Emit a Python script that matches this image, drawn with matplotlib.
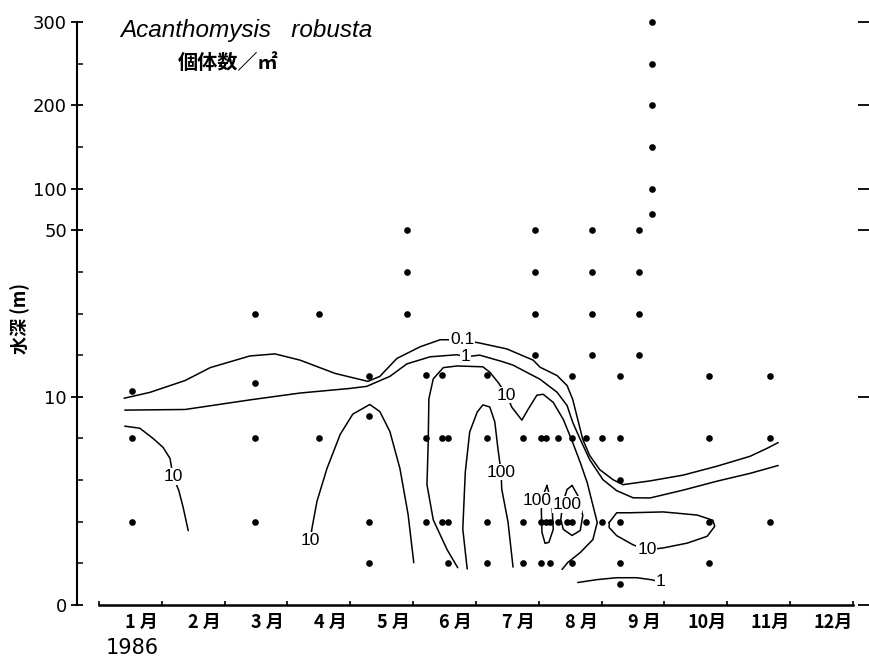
import numpy as np
import matplotlib
matplotlib.use("Agg")
import matplotlib.pyplot as plt
from matplotlib.ticker import NullFormatter

# ---------------- data ----------------
# depth axis: evenly spaced nodes (hand-drawn broken scale)
depth_nodes = [0, 2, 4, 6, 8, 10, 20, 30, 40, 50, 100, 150, 200, 250, 300]
major_depths = [0, 10, 50, 100, 200, 300]
minor_depths = [2, 4, 6, 8, 20, 30, 40, 150, 250]
month_labels = ["1 月", "2 月", "3 月", "4 月", "5 月", "6 月", "7 月", "8 月",
                "9 月", "10月", "11月", "12月"]

# sampling stations: time (months since 1 Jan 1986) and sampled depths (m)
station_month = [0.53, 2.48, 3.50, 4.30, 4.90, 5.20, 5.46, 5.55, 6.18, 6.75,
                 6.94, 7.04, 7.11, 7.18, 7.30, 7.45, 7.53, 7.75, 7.85, 8.01,
                 8.29, 8.59, 8.80, 9.71, 10.68]
station_depths = [[4, 8, 11.3], [4, 8, 13.3, 30], [8, 30], [2, 4, 9.1, 15],
                  [30, 40, 50], [4, 8, 15.3], [4, 8, 15.3], [2, 4, 8],
                  [2, 4, 8, 15.3], [2, 4, 8], [20, 30, 40, 50], [2, 4, 8],
                  [4, 8], [2, 4], [4, 8], [4], [2, 4, 8, 15], [4, 8],
                  [20, 30, 40, 50], [4, 8], [1, 2, 4, 6, 8, 15],
                  [20, 30, 40, 50], [70, 100, 150, 200, 250, 300],
                  [2, 4, 8, 15], [4, 8, 15]]

# isolines (individuals / m2)
c01_month = [0.40, 0.81, 1.37, 1.77, 2.40, 2.80, 3.20, 3.76, 4.28, 4.47, 4.74,
             5.11, 5.43, 5.54, 5.78, 6.06, 6.49, 6.91, 7.02, 7.29, 7.45, 7.54,
             7.62, 7.70, 7.81, 7.97, 8.18, 8.34, 8.77, 9.30, 9.84, 10.36,
             10.63, 10.81]
c01_depth = [9.93, 11.06, 13.9, 17.0, 19.8, 20.3, 18.8, 15.6, 13.7, 14.9, 19.2,
             22.0, 23.7, 23.7, 23.7, 22.9, 21.5, 18.8, 17.1, 15.1, 12.7, 9.87,
             8.91, 7.95, 7.18, 6.50, 6.02, 5.78, 5.96, 6.24, 6.67, 7.14, 7.52,
             7.80]

c1_month = [0.41, 1.37, 2.40, 3.20, 3.99, 4.26, 4.63, 4.90, 5.27, 5.70, 5.83,
            6.06, 6.43, 6.59, 7.02, 7.29, 7.45, 7.54, 7.66, 7.81, 8.02, 8.24,
            8.50, 8.77, 9.30, 9.84, 10.36, 10.81]
c1_depth = [9.36, 9.39, 9.85, 10.9, 12.0, 12.5, 14.9, 17.9, 19.6, 20.1, 19.6,
            20.0, 18.4, 17.6, 14.2, 11.1, 9.58, 8.77, 7.95, 6.98, 6.02, 5.49,
            5.15, 5.14, 5.52, 5.95, 6.32, 6.70]

c10_jan_month = [0.41, 0.65, 0.86, 1.02, 1.13, 1.18, 1.27, 1.34, 1.42]
c10_jan_depth = [8.59, 8.49, 8.00, 7.57, 7.04, 6.17, 5.50, 4.68, 3.57]

c10_may_month = [3.36, 3.39, 3.47, 3.63, 3.84, 4.04, 4.31, 4.47, 4.63, 4.79,
                 4.92, 5.01]
c10_may_depth = [3.11, 3.69, 4.99, 6.57, 8.20, 9.17, 9.63, 9.29, 8.33, 6.55,
                 4.34, 2.03]

c10_jun_month = [5.71, 5.54, 5.32, 5.22, 5.24, 5.25, 5.32, 5.48, 5.70, 6.11,
                 6.22, 6.35, 6.49, 6.57, 6.73, 6.83, 6.97, 7.07, 7.23, 7.39,
                 7.54, 7.66, 7.77, 7.85, 7.93, 7.86, 7.66, 7.46, 7.37]
c10_jun_depth = [1.79, 2.66, 4.09, 5.78, 7.84, 9.90, 14.3, 17.0, 17.4, 17.2,
                 15.9, 13.5, 10.4, 9.50, 8.88, 9.40, 10.4, 10.6, 9.73, 8.91,
                 7.80, 6.84, 5.88, 4.92, 3.96, 3.14, 2.52, 2.04, 1.71]

c100_jun_month = [5.86, 5.79, 5.83, 5.90, 6.02, 6.11, 6.22, 6.30, 6.35, 6.40,
                  6.41, 6.51, 6.59]
c100_jun_depth = [1.73, 3.65, 6.39, 8.31, 9.27, 9.61, 9.51, 8.79, 7.49, 6.38,
                  5.57, 3.98, 1.82]

c100_a_month = [7.13, 7.21, 7.23, 7.16, 7.10, 7.05, 7.04, 7.07, 7.13]
c100_a_depth = [5.74, 4.78, 3.63, 3.01, 2.96, 3.49, 4.60, 5.27, 5.74]

c100_b_month = [7.53, 7.62, 7.70, 7.66, 7.53, 7.39, 7.35, 7.37, 7.40, 7.45, 7.53]
c100_b_depth = [5.74, 5.26, 4.30, 3.58, 3.34, 3.63, 4.11, 4.59, 5.07, 5.55, 5.74]

c10_sep_month = [8.12, 8.24, 8.45, 8.98, 9.52, 9.77, 9.80, 9.68, 9.36, 8.98,
                 8.72, 8.50, 8.24, 8.12, 8.12]
c10_sep_depth = [3.96, 4.43, 4.43, 4.47, 4.32, 4.07, 3.78, 3.30, 2.97, 2.74,
                 2.65, 2.89, 3.33, 3.72, 3.96]

c1_sep_month = [7.62, 7.93, 8.24, 8.56, 8.80, 8.93]
c1_sep_depth = [1.08, 1.22, 1.31, 1.31, 1.21, 1.11]

iso_labels = ["0.1", "1", "10", "10", "10", "100", "100", "100", "10", "1"]
iso_label_month = [5.78, 5.83, 1.18, 3.36, 6.49, 6.40, 6.97, 7.45, 8.72, 8.93]
iso_label_depth = [23.7, 19.6, 6.17, 3.11, 10.4, 6.38, 5.03, 4.83, 2.65, 1.11]

# ---------------- figure ----------------
W, H = 869, 658
fig = plt.figure(figsize=(W / 100, H / 100), dpi=100)
ax = fig.add_axes([77 / W, 53 / H, (864 - 77) / W, 583 / H])

node_idx = np.arange(len(depth_nodes), dtype=float)


def fwd(v):
    return np.interp(v, depth_nodes, node_idx)


def inv(k):
    return np.interp(k, node_idx, depth_nodes)


ax.set_yscale("function", functions=(fwd, inv))
ax.set_ylim(0, 300)
ax.set_xlim((77 - 99) / 62.83, (864 - 99) / 62.83)

ax.set_yticks(major_depths)
ax.set_yticklabels([str(v) for v in major_depths], fontfamily="DejaVu Sans",
                   fontsize=13)
ax.set_yticks(minor_depths, minor=True)
ax.yaxis.set_minor_formatter(NullFormatter())
ax.tick_params(axis="y", which="major", direction="inout", length=8.5,
               width=1.3, left=True, right=True, pad=3, colors="black")
ax.tick_params(axis="y", which="minor", direction="in", length=4,
               width=1.1, left=True, right=False)

ax.set_xticks(range(13))
ax.tick_params(axis="x", which="major", direction="in", length=3, width=1.2,
               labelbottom=False)
ax.set_xticks([], minor=True)

for s in ("top", "right"):
    ax.spines[s].set_visible(False)
ax.spines["left"].set_linewidth(1.5)
ax.spines["bottom"].set_linewidth(1.8)
ax.spines["bottom"].set_bounds(0, 12)

# month labels
xt = ax.get_xaxis_transform()
for i, lab in enumerate(month_labels):
    ax.text(i + 0.68, -17 / 583, lab, transform=xt, ha="center", va="center",
            fontsize=13, fontweight="bold", fontfamily="Noto Sans CJK JP",
            clip_on=False)

# isolines
lines = [(c01_month, c01_depth), (c1_month, c1_depth),
         (c10_jan_month, c10_jan_depth), (c10_may_month, c10_may_depth),
         (c10_jun_month, c10_jun_depth), (c100_jun_month, c100_jun_depth),
         (c100_a_month, c100_a_depth), (c100_b_month, c100_b_depth),
         (c10_sep_month, c10_sep_depth), (c1_sep_month, c1_sep_depth)]
for m, d in lines:
    ax.plot(m, d, color="black", lw=1.1, zorder=2, solid_capstyle="round",
            solid_joinstyle="round")

for lab, m, d in zip(iso_labels, iso_label_month, iso_label_depth):
    ax.text(m, d, lab, ha="center", va="center", fontsize=12.5,
            fontfamily="Liberation Sans", zorder=3,
            bbox=dict(boxstyle="square,pad=0.04", fc="white", ec="none"))

# sampling points
for m, ds in zip(station_month, station_depths):
    ax.plot([m] * len(ds), ds, "o", color="black", ms=4.8, mec="black",
            mew=0, zorder=4, clip_on=False)

# texts
fig.text(120 / W, 1 - 31 / H, "Acanthomysis   robusta",
         fontfamily="Liberation Sans", fontstyle="italic", fontsize=17.5,
         ha="left", va="center")
fig.text(178 / W, 1 - 62 / H, "個体数／㎡", fontfamily="Noto Sans CJK JP",
         fontweight="bold", fontsize=14.5, ha="left", va="center")
fig.text(20 / W, 1 - 318 / H, "水深 (m)", fontfamily="Noto Sans CJK JP",
         fontweight="bold", fontsize=13, rotation=90, ha="center",
         va="center")
fig.text(132 / W, 1 - 648 / H, "1986", fontfamily="DejaVu Sans", fontsize=15,
         ha="center", va="center")

fig.savefig("out.png", dpi=100)
